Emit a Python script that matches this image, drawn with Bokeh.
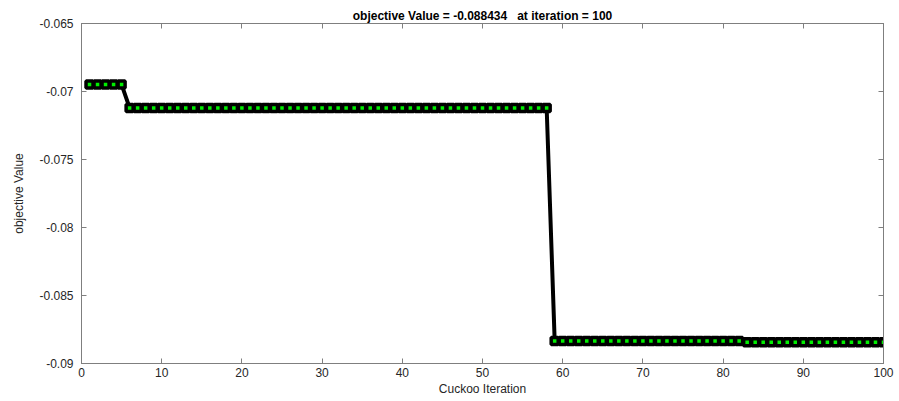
from bokeh.plotting import figure
from bokeh.models import Range1d, FixedTicker, LinearAxis
from bokeh.embed import file_html
from bokeh.resources import INLINE

# data
iterations = list(range(1, 101))
level_values = [-0.06949, -0.07121, -0.08834, -0.088434]
level_ends = [5, 58, 82, 100]
values = []
for it in iterations:
    for end, v in zip(level_ends, level_values):
        if it <= end:
            values.append(v)
            break

x_ticks = list(range(0, 101, 10))
y_ticks = [-0.09, -0.085, -0.08, -0.075, -0.07, -0.065]
y_tick_labels = ["-0.09", "-0.085", "-0.08", "-0.075", "-0.07", "-0.065"]
title_text = "objective Value = -0.088434 \u00a0 at iteration = 100"

FONT = "Liberation Sans"
AX = "#7f7f7f"
TXT = "#262626"

p = figure(width=899, height=401, output_backend="svg", toolbar_location=None,
           x_range=Range1d(0, 100), y_range=Range1d(-0.09, -0.065),
           min_border_left=81, min_border_right=16, min_border_top=23, min_border_bottom=38)
p.title.text = title_text
p.title.align = "center"
p.title.text_font = FONT
p.title.text_font_size = "12px"
p.title.text_font_style = "bold"
p.title.text_color = "#000000"
p.title.offset = 0
p.title.standoff = 2

p.xgrid.visible = False
p.ygrid.visible = False
p.outline_line_color = AX

for ax in (p.xaxis[0], p.yaxis[0]):
    ax.axis_line_color = AX
    ax.major_tick_line_color = AX
    ax.major_tick_in = 5
    ax.major_tick_out = 0
    ax.minor_tick_line_color = None
    ax.major_label_text_font = FONT
    ax.major_label_text_font_size = "12px"
    ax.major_label_text_color = TXT
    ax.axis_label_text_font = FONT
    ax.axis_label_text_font_style = "normal"
    ax.axis_label_text_color = TXT

p.xaxis.ticker = FixedTicker(ticks=x_ticks)
p.xaxis.axis_label = "Cuckoo Iteration"
p.xaxis.axis_label_text_font_size = "12px"
p.xaxis.axis_label_standoff = 2
p.xaxis.major_label_standoff = 4

p.yaxis.ticker = FixedTicker(ticks=y_ticks)
p.yaxis.major_label_overrides = {t: l for t, l in zip(y_ticks, y_tick_labels)}
p.yaxis.axis_label = "objective Value"
p.yaxis.axis_label_text_font_size = "12px"
p.yaxis.axis_label_standoff = 10
p.yaxis.major_label_standoff = 8

top = LinearAxis(ticker=FixedTicker(ticks=x_ticks),
                 major_label_overrides={t: "" for t in x_ticks},
                 axis_line_color=AX, major_tick_line_color=AX, major_tick_in=5,
                 major_tick_out=0, minor_tick_line_color=None, major_label_standoff=0)
right = LinearAxis(ticker=FixedTicker(ticks=y_ticks),
                   major_label_overrides={t: "" for t in y_ticks},
                   axis_line_color=AX, major_tick_line_color=AX, major_tick_in=5,
                   major_tick_out=0, minor_tick_line_color=None, major_label_standoff=0)
p.add_layout(top, "above")
p.add_layout(right, "right")

p.line(iterations, values, line_color="black", line_width=4)
p.scatter(iterations, values, marker="square", size=7, fill_color="#00ee00",
          line_color="black", line_width=3.5)

open("out.html", "w").write(file_html(p, INLINE))
